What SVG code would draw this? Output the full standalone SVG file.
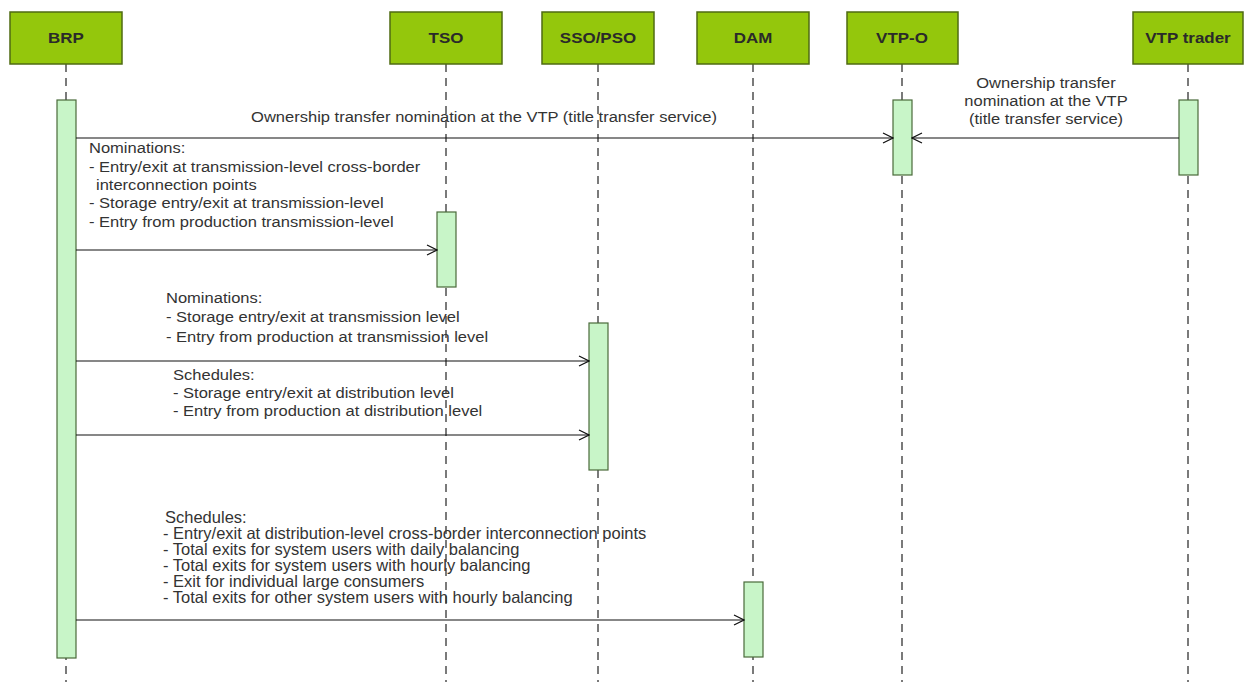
<svg xmlns="http://www.w3.org/2000/svg" width="1244" height="682" viewBox="0 0 1244 682">
<style>
.hdr{fill:#94c70c;stroke:#4f6b12;stroke-width:1.5}
.ht{font-family:"Liberation Sans",Arial,sans-serif;font-weight:bold;font-size:15px;fill:#2a2a2a;text-anchor:middle}
.life{stroke:#7a7a7a;stroke-width:2;stroke-dasharray:8,6;fill:none}
.act{fill:#c8f5c8;stroke:#4a6a3a;stroke-width:1.2}
.msg{stroke:#111;stroke-width:1.2;fill:none}
.t{font-family:"Liberation Sans",Arial,sans-serif;font-size:14.5px;fill:#333}
.tc{font-family:"Liberation Sans",Arial,sans-serif;font-size:14.5px;fill:#333;text-anchor:middle}
.tn{font-family:"Liberation Sans",Arial,sans-serif;font-size:16.5px;fill:#333}
</style>
<defs>
<marker id="arr" viewBox="0 0 12 12" refX="11" refY="6" markerWidth="12" markerHeight="12" markerUnits="userSpaceOnUse" orient="auto">
<path d="M1,1 L11,6 L1,11" fill="none" stroke="#111" stroke-width="1.2"/>
</marker>
</defs>
<rect width="1244" height="682" fill="#fff"/>
<g id="lifelines">
<line class="life" x1="66" y1="64" x2="66" y2="682"/>
<line class="life" x1="446" y1="64" x2="446" y2="682"/>
<line class="life" x1="598" y1="64" x2="598" y2="682"/>
<line class="life" x1="753" y1="64" x2="753" y2="682"/>
<line class="life" x1="902" y1="64" x2="902" y2="682"/>
<line class="life" x1="1188" y1="64" x2="1188" y2="682"/>
</g>
<g id="BRP"><rect class="hdr" x="10" y="12" width="112" height="52"/><text class="ht" transform="matrix(1.13,0,0,1,66,43)">BRP</text><rect class="act" x="57" y="100" width="19" height="558"/></g>
<g id="TSO"><rect class="hdr" x="390" y="12" width="112" height="52"/><text class="ht" transform="matrix(1.13,0,0,1,446,43)">TSO</text><rect class="act" x="437" y="212" width="19" height="75"/></g>
<g id="SSO"><rect class="hdr" x="542" y="12" width="112" height="52"/><text class="ht" transform="matrix(1.13,0,0,1,598,43)">SSO/PSO</text><rect class="act" x="589" y="323" width="19" height="147"/></g>
<g id="DAM"><rect class="hdr" x="697" y="12" width="112" height="52"/><text class="ht" transform="matrix(1.13,0,0,1,753,43)">DAM</text><rect class="act" x="744" y="582" width="19" height="75"/></g>
<g id="VTPO"><rect class="hdr" x="847" y="12" width="111" height="52"/><text class="ht" transform="matrix(1.13,0,0,1,902,43)">VTP-O</text><rect class="act" x="893" y="100" width="19" height="75"/></g>
<g id="VTPtrader"><rect class="hdr" x="1133" y="12" width="110" height="52"/><text class="ht" transform="matrix(1.13,0,0,1,1188,43)">VTP trader</text><rect class="act" x="1179" y="100" width="19" height="75"/></g>
<g id="connectors">
<line class="msg" x1="76" y1="138" x2="893" y2="138" marker-end="url(#arr)"/>
<line class="msg" x1="1179" y1="138" x2="912" y2="138" marker-end="url(#arr)"/>
<line class="msg" x1="76" y1="250" x2="437" y2="250" marker-end="url(#arr)"/>
<line class="msg" x1="76" y1="361" x2="589" y2="361" marker-end="url(#arr)"/>
<line class="msg" x1="76" y1="435" x2="589" y2="435" marker-end="url(#arr)"/>
<line class="msg" x1="76" y1="620" x2="744" y2="620" marker-end="url(#arr)"/>
</g>
<g id="labels">
<text class="tc" transform="matrix(1.14,0,0,1,484,122)">Ownership transfer nomination at the VTP (title transfer service)</text>
<text class="tc" transform="matrix(1.14,0,0,1,1046,88)">Ownership transfer</text>
<text class="tc" transform="matrix(1.14,0,0,1,1046,106)">nomination at the VTP</text>
<text class="tc" transform="matrix(1.14,0,0,1,1046,124)">(title transfer service)</text>
<text class="t" transform="matrix(1.14,0,0,1,89,153)">Nominations:</text>
<text class="t" transform="matrix(1.14,0,0,1,89,172)">- Entry/exit at transmission-level cross-border</text>
<text class="t" transform="matrix(1.14,0,0,1,96,190)">interconnection points</text>
<text class="t" transform="matrix(1.14,0,0,1,89,208)">- Storage entry/exit at transmission-level</text>
<text class="t" transform="matrix(1.14,0,0,1,89,227)">- Entry from production transmission-level</text>
<text class="t" transform="matrix(1.14,0,0,1,166,303)">Nominations:</text>
<text class="t" transform="matrix(1.14,0,0,1,166,322)">- Storage entry/exit at transmission level</text>
<text class="t" transform="matrix(1.14,0,0,1,166,342)">- Entry from production at transmission level</text>
<text class="t" transform="matrix(1.14,0,0,1,173,380)">Schedules:</text>
<text class="t" transform="matrix(1.14,0,0,1,173,398)">- Storage entry/exit at distribution level</text>
<text class="t" transform="matrix(1.14,0,0,1,173,416)">- Entry from production at distribution level</text>
<text class="tn" x="165" y="523">Schedules:</text>
<text class="tn" x="163" y="539">- Entry/exit at distribution-level cross-border interconnection points</text>
<text class="tn" x="163" y="555">- Total exits for system users with daily balancing</text>
<text class="tn" x="163" y="571">- Total exits for system users with hourly balancing</text>
<text class="tn" x="163" y="587">- Exit for individual large consumers</text>
<text class="tn" x="163" y="603">- Total exits for other system users with hourly balancing</text>
</g>
</svg>
